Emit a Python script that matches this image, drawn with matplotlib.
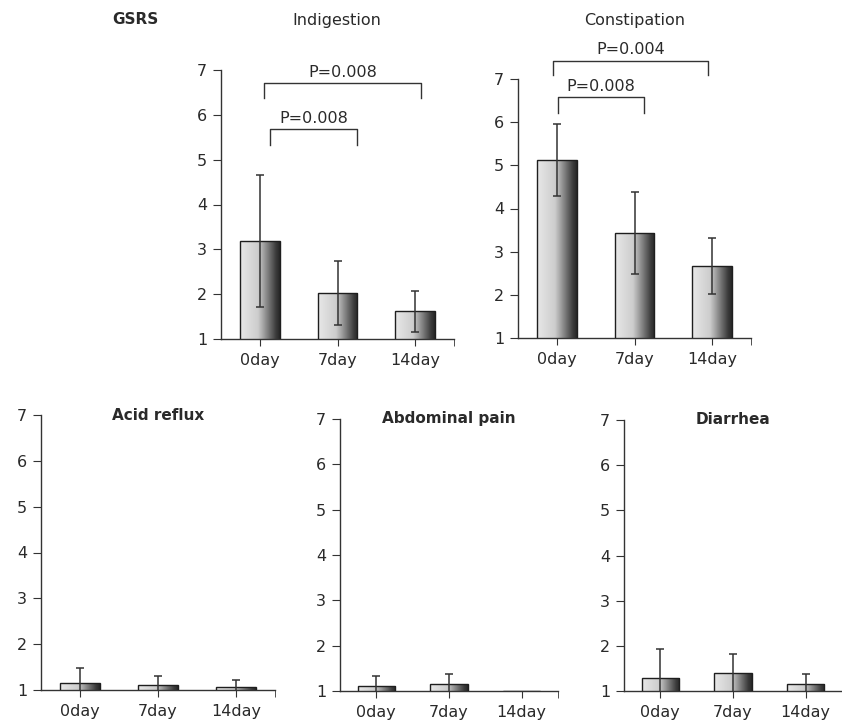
import numpy as np
import matplotlib.pyplot as plt
from matplotlib.colors import LinearSegmentedColormap

days = ['0day', '7day', '14day']

indigestion_mean = [3.18, 2.02, 1.62]
indigestion_sd = [1.47, 0.71, 0.46]
constipation_mean = [5.12, 3.43, 2.67]
constipation_sd = [0.84, 0.95, 0.65]
acid_mean = [1.16, 1.11, 1.06]
acid_sd = [0.33, 0.20, 0.16]
abdominal_mean = [1.12, 1.15, 1.0]
abdominal_sd = [0.22, 0.23, 0.0]
diarrhea_mean = [1.28, 1.39, 1.15]
diarrhea_sd = [0.64, 0.42, 0.23]

# brackets: x start, x end, bar height, leg bottom, label
indigestion_brackets = [(0.06, 2.08, 6.71, 6.38, 'P=0.008'),
                        (0.13, 1.25, 5.68, 5.33, 'P=0.008')]
constipation_brackets = [(-0.05, 1.95, 7.42, 7.09, 'P=0.004'),
                         (0.01, 1.12, 6.58, 6.21, 'P=0.008')]

W, H = 842, 725
INK = '#2a2a2a'
plt.rcParams['font.family'] = ['DejaVu Sans']
plt.rcParams['font.size'] = 11.5
plt.rcParams['text.color'] = INK

cmap = LinearSegmentedColormap.from_list(
    'bar', [(0, '#e8e8e8'), (0.45, '#cdcdcd'), (0.58, '#a5a5a5'),
            (0.9, '#3c3c3c'), (1, '#262626')])
grad = np.linspace(0, 1, 256).reshape(1, -1)

fig = plt.figure(figsize=(W / 100, H / 100), dpi=100)


def panel(box, means, sds, title=None, brackets=()):
    l, t, r, b = box
    ax = fig.add_axes([l / W, 1 - b / H, (r - l) / W, (b - t) / H])
    x = np.arange(len(days))
    bars = ax.bar(x, means, width=0.51, facecolor='none', edgecolor='#1e1e1e',
                  linewidth=1.0, zorder=3)
    for bar in bars:
        if bar.get_height() <= 1:
            continue
        im = ax.imshow(grad, cmap=cmap, aspect='auto', zorder=2,
                       extent=[bar.get_x(), bar.get_x() + bar.get_width(),
                               1, bar.get_height()])
        im.set_clip_path(bar)
    m = np.array(sds) > 0
    ax.errorbar(x[m], np.array(means)[m], yerr=np.array(sds)[m], fmt='none',
                ecolor='#333333', elinewidth=1.1, capsize=3, capthick=1.1,
                zorder=4)
    for x0, x1, y, yl, label in brackets:
        ax.plot([x0, x0, x1, x1], [yl, y, y, yl], color='#333333', lw=1.0,
                clip_on=False)
        ax.annotate(label, ((x0 + x1) / 2, y), xytext=(0, 2.5),
                    textcoords='offset points', ha='center', va='bottom',
                    annotation_clip=False)
    if title:
        ax.text(1, 7, title, ha='center', va='center', weight='bold', size=11)
    ax.set_xlim(-0.5, 2.5)
    ax.set_ylim(1, 7)
    ax.set_xticks(x, days)
    ax.set_xticks([2.5], minor=True)
    ax.set_yticks(range(1, 8))
    for s in ['top', 'right']:
        ax.spines[s].set_visible(False)
    for s in ['left', 'bottom']:
        ax.spines[s].set_color('#333333')
        ax.spines[s].set_linewidth(1.0)
    ax.tick_params(axis='x', which='both', length=5, color='#333333',
                   labelcolor=INK, pad=5)
    ax.tick_params(axis='y', length=6, color='#333333', labelcolor=INK, pad=4)
    return ax


panel((221, 70, 454, 339), indigestion_mean, indigestion_sd,
      brackets=indigestion_brackets)
panel((518, 79, 751, 338), constipation_mean, constipation_sd,
      brackets=constipation_brackets)
panel((41, 415, 275, 690), acid_mean, acid_sd, title='Acid reflux')
panel((340, 419, 558, 691), abdominal_mean, abdominal_sd, title='Abdominal pain')
panel((624, 420, 842, 691), diarrhea_mean, diarrhea_sd, title='Diarrhea')

fig.text(135 / W, 1 - 19 / H, 'GSRS', ha='center', va='center', weight='bold',
         size=11)
fig.text(337 / W, 1 - 20 / H, 'Indigestion', ha='center', va='center')
fig.text(635 / W, 1 - 20 / H, 'Constipation', ha='center', va='center')

fig.savefig('out.png', dpi=100)
